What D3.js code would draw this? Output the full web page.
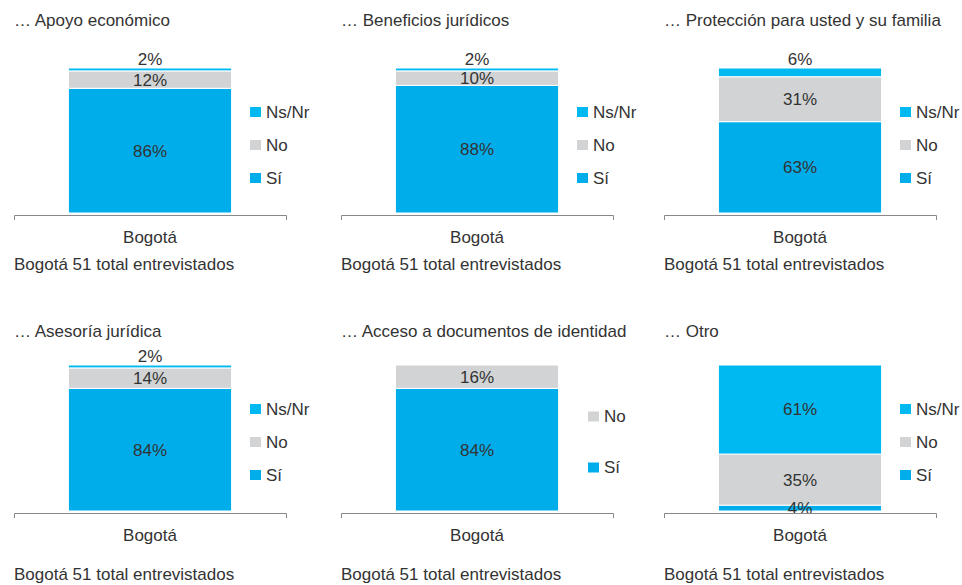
<!DOCTYPE html>
<html>
<head>
<meta charset="utf-8">
<script src="https://cdn.jsdelivr.net/npm/d3@7"></script>
<style>
  body { margin: 0; background: #fff; }
  svg text { font-family: "Liberation Sans", Arial, sans-serif; fill: #333; }
</style>
</head>
<body>
<div id="chart"></div>
<script>
// Data
const categories = ["Bogotá"];
const titles = [
  "\u2026 Apoyo económico",
  "\u2026 Beneficios jurídicos",
  "\u2026 Protección para usted y su familia",
  "\u2026 Asesoría jurídica",
  "\u2026 Acceso a documentos de identidad",
  "\u2026 Otro"
];
const seriesNames = ["Sí", "No", "Ns/Nr"];
const siValues = [86, 88, 63, 84, 84, 4];
const noValues = [12, 10, 31, 14, 16, 35];
const nsnrValues = [2, 2, 6, 2, null, 61];
const footerText = "Bogotá 51 total entrevistados";

const colors = { "Sí": "#00ADEB", "No": "#D1D3D4", "Ns/Nr": "#00B9F1" };

const W = 962, H = 585;
const fontSize = "17px";
const colX = [13, 340, 663];
const rows = [
  { titleY: 26, top: 68, bottom: 213, axisY: 215, footY: 270 },
  { titleY: 337, top: 365, bottom: 511, axisY: 513, footY: 580 }
];
const panelW = 271;

const svg = d3.select("#chart")
  .append("svg")
  .attr("width", W)
  .attr("height", H);

titles.forEach((title, i) => {
  const row = rows[Math.floor(i / 3)];
  const x0 = colX[i % 3];
  const g = svg.append("g").attr("transform", `translate(${x0},0)`);

  const values = { "Sí": siValues[i], "No": noValues[i], "Ns/Nr": nsnrValues[i] };
  const present = seriesNames.filter(s => values[s] != null);

  const x = d3.scaleBand().domain(categories).range([1, panelW + 2]).padding(0.25);
  const y = d3.scaleLinear().domain([0, 100]).range([row.bottom, row.top]);

  // stacked segments
  let acc = 0;
  const segs = present.map(s => {
    const d = { key: s, y0: acc, y1: acc + values[s], v: values[s] };
    acc += values[s];
    return d;
  });

  g.selectAll("rect.seg")
    .data(segs)
    .enter().append("rect")
    .attr("class", "seg")
    .attr("x", x(categories[0]))
    .attr("width", x.bandwidth())
    .attr("y", d => y(d.y1))
    .attr("height", d => y(d.y0) - y(d.y1))
    .attr("fill", d => colors[d.key])
    .attr("stroke", "#fff")
    .attr("stroke-width", 1);

  // value labels (a tiny top segment gets its label sitting on top of the bar)
  const isTinyTop = (d, j) => (y(d.y0) - y(d.y1)) < 12 && j === segs.length - 1;
  g.selectAll("text.val")
    .data(segs)
    .enter().append("text")
    .attr("class", "val")
    .attr("x", x(categories[0]) + x.bandwidth() / 2)
    .attr("y", (d, j) => isTinyTop(d, j) ? y(d.y1) - 3 : (y(d.y0) + y(d.y1)) / 2)
    .attr("dy", (d, j) => isTinyTop(d, j) ? "0em" : "0.35em")
    .attr("text-anchor", "middle")
    .style("font-size", fontSize)
    .text(d => `${d.v}%`);

  // axis
  const axis = g.append("g")
    .attr("transform", `translate(0,${row.axisY})`)
    .call(d3.axisBottom(x).tickSizeInner(0).tickSizeOuter(5).tickPadding(16));
  axis.select(".domain").attr("stroke", "#888");
  axis.selectAll("text").style("font-size", fontSize).attr("fill", "#333");

  // title
  g.append("text")
    .attr("x", 1)
    .attr("y", row.titleY)
    .style("font-size", fontSize)
    .text(title);

  // footer
  g.append("text")
    .attr("x", 1)
    .attr("y", row.footY)
    .style("font-size", fontSize)
    .text(footerText);

  // legend (reverse order: Ns/Nr on top)
  const legendItems = present.slice().reverse();
  const spacing = legendItems.length === 3 ? 33 : 51;
  const lx = legendItems.length === 3 ? 237 : 248;
  const midY = row.top + 77;
  const legend = g.append("g");
  legendItems.forEach((s, k) => {
    const cy = midY + (k - (legendItems.length - 1) / 2) * spacing;
    legend.append("rect")
      .attr("x", lx)
      .attr("y", cy - 5)
      .attr("width", 11)
      .attr("height", 10)
      .attr("fill", colors[s]);
    legend.append("text")
      .attr("x", lx + 16)
      .attr("y", cy)
      .attr("dy", "0.35em")
      .style("font-size", fontSize)
      .text(s);
  });
});
</script>
</body>
</html>
